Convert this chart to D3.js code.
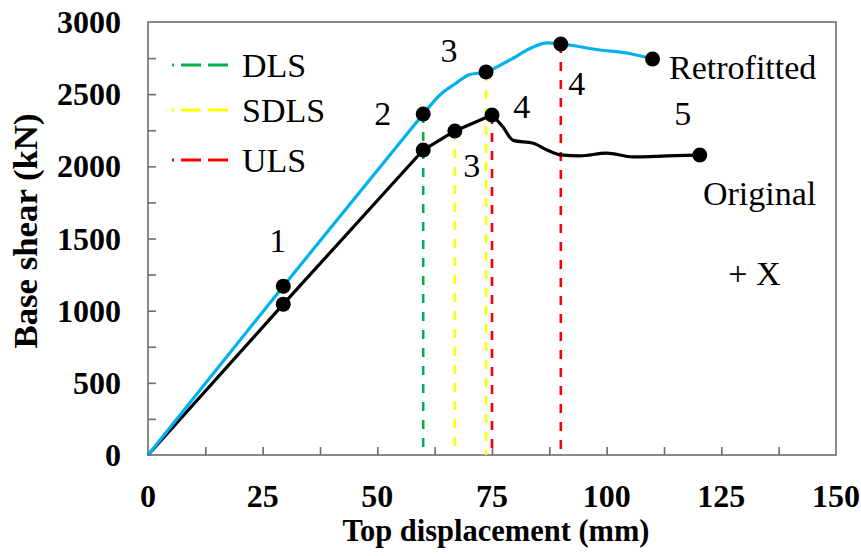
<!DOCTYPE html>
<html><head><meta charset="utf-8">
<script src="https://cdn.jsdelivr.net/npm/d3@7"></script>
<style>
html,body{margin:0;padding:0;background:#fff;}
svg{display:block;font-family:"Liberation Serif","Times New Roman",serif;}
</style></head>
<body><svg id="chart" width="861" height="556"></svg>
<script>
// ---- data ----
const xTickValues = [0, 25, 50, 75, 100, 125, 150];
const yTickValues = [0, 500, 1000, 1500, 2000, 2500, 3000];
const xMinorTicks = [12.5, 25, 37.5, 50, 62.5, 75, 87.5, 100, 112.5, 125, 137.5];
const yMinorTicks = [250, 500, 750, 1000, 1250, 1500, 1750, 2000, 2250, 2500, 2750];

// pre-yield (straight) and post-yield (smooth) parts of each curve
const retrofittedLinX = [0, 29.5, 60];
const retrofittedLinY = [0, 1170, 2363];
const retrofittedX = [60, 64, 67, 70, 73.7, 78.9, 84, 87, 90, 98.5, 104.4, 110];
const retrofittedY = [2363, 2505, 2572, 2635, 2654, 2737, 2827, 2855, 2848, 2806, 2785, 2744];
const originalLinX = [0, 29.5, 60, 66.9, 75];
const originalLinY = [0, 1045, 2113, 2245, 2356];
const originalX = [75, 77.4, 79.6, 84, 87, 90, 94.2, 100, 105.7, 113.2, 120.3];
const originalY = [2356, 2272, 2180, 2160, 2113, 2079, 2072, 2092, 2065, 2072, 2079];

// performance points (numbered markers)
const retrofittedPtsX = [29.5, 60, 73.7, 90, 110];
const retrofittedPtsY = [1170, 2363, 2654, 2848, 2744];
const originalPtsX = [29.5, 60, 66.9, 75, 120.3];
const originalPtsY = [1045, 2113, 2245, 2356, 2079];

// limit states (vertical dashed lines)
const limitNames = ["DLS", "SDLS", "ULS"];
const limitColors = ["#00B050", "#FFFF00", "#FF0000"];
const limitLineX = [60, 66.9, 73.7, 75, 90];
const limitLineTop = [2363, 2245, 2654, 2356, 2848];
const limitLineType = ["DLS", "SDLS", "SDLS", "ULS", "ULS"];

// annotation labels (data coordinates)
const annText = ["1", "2", "3", "3", "4", "4", "5"];
const annX = [28.3, 51.2, 65.6, 70.6, 81.5, 93.5, 116.6];
const annY = [1406, 2286, 2723, 1926, 2335, 2494, 2286];
const seriesNames = ["Retrofitted", "Original"];
const seriesLabelX = [113.6, 121];
const seriesLabelY = [2605, 1732];
const directionLabel = "+ X";
const directionX = 126.5, directionY = 1178;

// ---- layout ----
const svg = d3.select("#chart");
const L = 148, R = 836, T = 22, B = 455;
const x = d3.scaleLinear().domain([0, 150]).range([L, R]);
const y = d3.scaleLinear().domain([0, 3000]).range([B, T]);
const frameColor = "#6d6d6d";

// frame
svg.append("rect").attr("x", L).attr("y", T).attr("width", R - L).attr("height", B - T)
  .attr("fill", "none").attr("stroke", frameColor).attr("stroke-width", 1.6);

// inward ticks
const xAxis = d3.axisTop(x).tickValues(xMinorTicks).tickSize(8).tickFormat("");
svg.append("g").attr("transform", `translate(0,${B})`).call(xAxis)
  .call(g => { g.select(".domain").remove(); g.selectAll("line").attr("stroke", frameColor).attr("stroke-width", 1.6); });
const yAxis = d3.axisRight(y).tickValues(yMinorTicks).tickSize(8).tickFormat("");
svg.append("g").attr("transform", `translate(${L},0)`).call(yAxis)
  .call(g => { g.select(".domain").remove(); g.selectAll("line").attr("stroke", frameColor).attr("stroke-width", 1.6); });

// tick labels
svg.append("g").selectAll("text").data(xTickValues).join("text")
  .attr("x", d => x(d)).attr("y", 507).attr("text-anchor", "middle")
  .attr("font-size", 32).attr("font-weight", "bold").attr("fill", "#000")
  .text(d => d);
svg.append("g").selectAll("text").data(yTickValues).join("text")
  .attr("x", 121).attr("y", d => y(d) + 11).attr("text-anchor", "end")
  .attr("font-size", 32).attr("font-weight", "bold").attr("fill", "#000")
  .text(d => d);

// axis titles
svg.append("text").attr("x", 496).attr("y", 541).attr("text-anchor", "middle")
  .attr("font-size", 32).attr("font-weight", "bold")
  .attr("textLength", 307).attr("lengthAdjust", "spacingAndGlyphs")
  .text("Top displacement (mm)");
svg.append("text").attr("transform", "translate(37,231) rotate(-90)").attr("text-anchor", "middle")
  .attr("font-size", 34).attr("font-weight", "bold")
  .attr("textLength", 235).attr("lengthAdjust", "spacingAndGlyphs")
  .text("Base shear (kN)");

// limit-state dashed lines
const colorOf = n => limitColors[limitNames.indexOf(n)];
svg.append("g").selectAll("line").data(limitLineX.map((v, i) => ({x: v, top: limitLineTop[i], t: limitLineType[i]})))
  .join("line")
  .attr("x1", d => x(d.x)).attr("x2", d => x(d.x))
  .attr("y1", d => y(d.top)).attr("y2", y(0))
  .attr("stroke", d => colorOf(d.t)).attr("stroke-width", 2.6)
  .attr("stroke-dasharray", "9,9");

// curves
const lineLin = d3.line().x(d => x(d[0])).y(d => y(d[1]));
const lineSmooth = d3.line().x(d => x(d[0])).y(d => y(d[1])).curve(d3.curveMonotoneX);
function drawCurve(lx, ly, sx, sy, color) {
  svg.append("path").datum(lx.map((v, i) => [v, ly[i]]))
    .attr("d", lineLin).attr("fill", "none").attr("stroke", color)
    .attr("stroke-width", 3.2).attr("stroke-linejoin", "round");
  svg.append("path").datum(sx.map((v, i) => [v, sy[i]]))
    .attr("d", lineSmooth).attr("fill", "none").attr("stroke", color)
    .attr("stroke-width", 3.2).attr("stroke-linejoin", "round");
}
drawCurve(originalLinX, originalLinY, originalX, originalY, "#000");
drawCurve(retrofittedLinX, retrofittedLinY, retrofittedX, retrofittedY, "#00B0F0");

// markers
const pts = retrofittedPtsX.map((v, i) => [v, retrofittedPtsY[i]])
  .concat(originalPtsX.map((v, i) => [v, originalPtsY[i]]));
svg.append("g").selectAll("circle").data(pts).join("circle")
  .attr("cx", d => x(d[0])).attr("cy", d => y(d[1])).attr("r", 7.5).attr("fill", "#000");

// annotations
svg.append("g").selectAll("text").data(annText.map((t, i) => ({t, x: annX[i], y: annY[i]})))
  .join("text").attr("x", d => x(d.x)).attr("y", d => y(d.y)).attr("text-anchor", "middle")
  .attr("font-size", 34).attr("fill", "#000").text(d => d.t);
svg.append("g").selectAll("text").data(seriesNames.map((t, i) => ({t, x: seriesLabelX[i], y: seriesLabelY[i]})))
  .join("text").attr("x", d => x(d.x)).attr("y", d => y(d.y))
  .attr("font-size", 34).attr("fill", "#000").text(d => d.t);
svg.append("text").attr("x", x(directionX)).attr("y", y(directionY))
  .attr("font-size", 34).attr("fill", "#000").text(directionLabel);

// legend
const legRowY = [65, 110, 160];
const leg = svg.append("g").selectAll("g").data(limitNames).join("g")
  .attr("transform", (d, i) => `translate(0,${legRowY[i]})`);
leg.append("line").attr("x1", 172).attr("x2", 230).attr("y1", 0).attr("y2", 0)
  .attr("stroke", (d, i) => limitColors[i]).attr("stroke-width", 3)
  .attr("stroke-dasharray", "20,7").attr("stroke-dashoffset", 18);
leg.append("text").attr("x", 242).attr("y", 12).attr("font-size", 34).attr("fill", "#000").text(d => d);
</script></body></html>
